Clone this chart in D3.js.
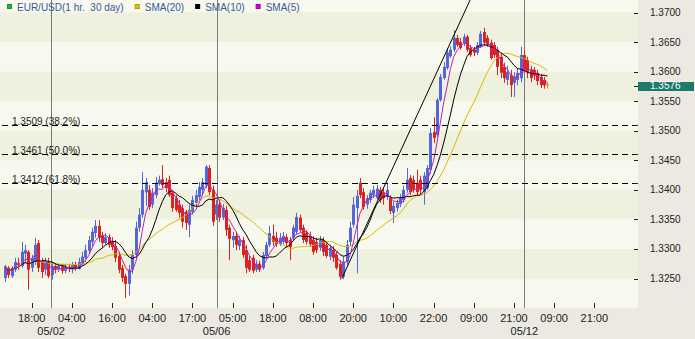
<!DOCTYPE html>
<html>
<head>
<meta charset="utf-8">
<title>EUR/USD 1 hr</title>
<script src="https://cdn.jsdelivr.net/npm/d3@7"></script>
<style>
  body { margin: 0; background: #ece9e2; }
  text { font-family: "Liberation Sans", Arial, sans-serif; }
</style>
</head>
<body>
<script>
// hourly candles: [open, high, low, close]
const candles = [
  [1.3251,1.3273,1.3244,1.3270],[1.3268,1.3271,1.3251,1.3256],[1.3254,1.3271,1.3251,1.3268],[1.3265,1.3285,1.3261,1.3278],
  [1.3276,1.3285,1.3265,1.3273],[1.3271,1.3312,1.3268,1.3295],[1.3292,1.3307,1.3278,1.3298],[1.3295,1.3298,1.3231,1.3265],
  [1.3268,1.3290,1.3261,1.3285],[1.3278,1.3319,1.3273,1.3307],[1.3310,1.3315,1.3261,1.3268],[1.3278,1.3285,1.3251,1.3261],
  [1.3265,1.3285,1.3256,1.3278],[1.3278,1.3285,1.3251,1.3254],[1.3256,1.3278,1.3248,1.3271],[1.3271,1.3276,1.3259,1.3265],
  [1.3265,1.3276,1.3261,1.3271],[1.3271,1.3275,1.3258,1.3263],[1.3263,1.3275,1.3259,1.3270],[1.3270,1.3275,1.3261,1.3266],
  [1.3265,1.3278,1.3259,1.3273],[1.3273,1.3278,1.3263,1.3266],[1.3266,1.3285,1.3265,1.3278],[1.3276,1.3295,1.3273,1.3287],
  [1.3285,1.3307,1.3278,1.3298],[1.3297,1.3322,1.3292,1.3315],[1.3312,1.3336,1.3305,1.3329],[1.3327,1.3349,1.3319,1.3339],
  [1.3339,1.3349,1.3312,1.3319],[1.3322,1.3329,1.3303,1.3310],[1.3310,1.3327,1.3307,1.3320],[1.3320,1.3325,1.3302,1.3307],
  [1.3313,1.3320,1.3298,1.3303],[1.3305,1.3315,1.3278,1.3285],[1.3288,1.3295,1.3259,1.3265],[1.3268,1.3273,1.3244,1.3251],
  [1.3254,1.3258,1.3217,1.3241],[1.3241,1.3273,1.3221,1.3265],[1.3265,1.3298,1.3258,1.3290],[1.3290,1.3346,1.3285,1.3336],
  [1.3336,1.3369,1.3329,1.3358],[1.3358,1.3430,1.3353,1.3400],[1.3396,1.3420,1.3373,1.3413],[1.3400,1.3408,1.3366,1.3371],
  [1.3375,1.3403,1.3369,1.3395],[1.3391,1.3422,1.3386,1.3412],[1.3410,1.3424,1.3407,1.3417],[1.3418,1.3442,1.3403,1.3408],
  [1.3413,1.3420,1.3396,1.3403],[1.3417,1.3424,1.3388,1.3391],[1.3395,1.3400,1.3363,1.3369],[1.3386,1.3391,1.3363,1.3366],
  [1.3375,1.3383,1.3353,1.3361],[1.3369,1.3375,1.3336,1.3346],[1.3363,1.3366,1.3332,1.3344],[1.3341,1.3375,1.3320,1.3366],
  [1.3363,1.3390,1.3358,1.3383],[1.3378,1.3400,1.3371,1.3391],[1.3388,1.3413,1.3383,1.3405],[1.3400,1.3420,1.3391,1.3413],
  [1.3408,1.3442,1.3403,1.3439],[1.3437,1.3442,1.3391,1.3396],[1.3400,1.3407,1.3339,1.3346],[1.3358,1.3383,1.3349,1.3375],
  [1.3375,1.3383,1.3346,1.3353],[1.3353,1.3376,1.3349,1.3369],[1.3366,1.3373,1.3322,1.3332],[1.3336,1.3341,1.3281,1.3317],
  [1.3315,1.3329,1.3302,1.3322],[1.3322,1.3329,1.3298,1.3307],[1.3305,1.3322,1.3298,1.3315],[1.3315,1.3320,1.3285,1.3290],
  [1.3298,1.3307,1.3259,1.3268],[1.3281,1.3288,1.3261,1.3265],[1.3285,1.3290,1.3259,1.3263],[1.3265,1.3281,1.3261,1.3275],
  [1.3275,1.3280,1.3261,1.3265],[1.3268,1.3295,1.3265,1.3290],[1.3288,1.3312,1.3285,1.3307],[1.3307,1.3339,1.3303,1.3327],
  [1.3322,1.3341,1.3305,1.3312],[1.3319,1.3329,1.3303,1.3308],[1.3308,1.3327,1.3305,1.3319],[1.3312,1.3329,1.3308,1.3322],
  [1.3320,1.3325,1.3302,1.3310],[1.3315,1.3320,1.3281,1.3303],[1.3319,1.3341,1.3315,1.3336],[1.3329,1.3361,1.3324,1.3354],
  [1.3353,1.3358,1.3329,1.3332],[1.3336,1.3341,1.3310,1.3315],[1.3327,1.3332,1.3307,1.3312],[1.3322,1.3329,1.3303,1.3308],
  [1.3315,1.3322,1.3290,1.3295],[1.3312,1.3319,1.3293,1.3298],[1.3302,1.3322,1.3297,1.3315],[1.3315,1.3320,1.3288,1.3295],
  [1.3307,1.3312,1.3285,1.3288],[1.3287,1.3307,1.3281,1.3302],[1.3298,1.3305,1.3278,1.3285],[1.3290,1.3295,1.3265,1.3268],
  [1.3275,1.3281,1.3248,1.3253],[1.3253,1.3287,1.3249,1.3278],[1.3278,1.3315,1.3273,1.3307],[1.3312,1.3346,1.3305,1.3336],
  [1.3341,1.3388,1.3336,1.3375],[1.3369,1.3400,1.3259,1.3390],[1.3412,1.3420,1.3386,1.3391],[1.3396,1.3403,1.3366,1.3371],
  [1.3375,1.3391,1.3368,1.3386],[1.3383,1.3400,1.3378,1.3395],[1.3391,1.3407,1.3386,1.3400],[1.3386,1.3408,1.3383,1.3402],
  [1.3400,1.3405,1.3378,1.3383],[1.3396,1.3403,1.3375,1.3386],[1.3388,1.3412,1.3383,1.3400],[1.3386,1.3391,1.3359,1.3364],
  [1.3361,1.3380,1.3344,1.3373],[1.3369,1.3383,1.3363,1.3378],[1.3376,1.3393,1.3371,1.3386],[1.3383,1.3407,1.3378,1.3400],
  [1.3400,1.3437,1.3395,1.3417],[1.3420,1.3425,1.3391,1.3396],[1.3417,1.3424,1.3395,1.3400],[1.3412,1.3434,1.3391,1.3396],
  [1.3417,1.3424,1.3393,1.3400],[1.3396,1.3430,1.3375,1.3424],[1.3403,1.3442,1.3400,1.3437],[1.3434,1.3505,1.3427,1.3496],
  [1.3498,1.3523,1.3479,1.3488],[1.3493,1.3555,1.3490,1.3552],[1.3552,1.3596,1.3549,1.3591],[1.3589,1.3616,1.3586,1.3608],
  [1.3606,1.3640,1.3603,1.3632],[1.3626,1.3643,1.3623,1.3637],[1.3637,1.3670,1.3633,1.3657],[1.3657,1.3662,1.3642,1.3645],
  [1.3650,1.3657,1.3637,1.3640],[1.3647,1.3664,1.3643,1.3659],[1.3659,1.3662,1.3633,1.3637],[1.3640,1.3645,1.3625,1.3628],
  [1.3637,1.3642,1.3626,1.3632],[1.3632,1.3650,1.3628,1.3645],[1.3643,1.3669,1.3640,1.3664],[1.3667,1.3674,1.3645,1.3649],
  [1.3657,1.3662,1.3642,1.3645],[1.3649,1.3654,1.3620,1.3623],[1.3645,1.3650,1.3623,1.3628],[1.3637,1.3642,1.3594,1.3608],
  [1.3625,1.3632,1.3589,1.3598],[1.3608,1.3615,1.3581,1.3589],[1.3586,1.3610,1.3577,1.3599],[1.3594,1.3603,1.3557,1.3577],
  [1.3581,1.3599,1.3557,1.3591],[1.3586,1.3606,1.3577,1.3598],[1.3589,1.3642,1.3582,1.3628],[1.3628,1.3637,1.3599,1.3603],
  [1.3620,1.3625,1.3589,1.3599],[1.3603,1.3610,1.3582,1.3589],[1.3603,1.3608,1.3586,1.3593],[1.3598,1.3603,1.3577,1.3584],
  [1.3591,1.3596,1.3572,1.3577],[1.3586,1.3591,1.3571,1.3577],[1.3579,1.3582,1.3571,1.3576]
];

const yTicks = [1.3250, 1.3300, 1.3350, 1.3400, 1.3450, 1.3500, 1.3550, 1.3600, 1.3650, 1.3700];
const xTickLabels = ["18:00", "04:00", "16:00", "04:00", "17:00", "05:00", "18:00", "08:00",
                     "20:00", "10:00", "22:00", "09:00", "21:00", "09:00", "21:00"];
const firstTickBar = 8, tickStep = 12;
const dayLabels = ["05/02", "05/06", "05/12"];
const dayBars = [13.8, 63.2, 155.1];
const fibLevels = [1.3509, 1.3461, 1.3412];
const fibLabels = ["1.3509 (38.2%)", "1.3461 (50.0%)", "1.3412 (61.8%)"];
const trendLine = [[100.6, 1.3250], [138.9, 1.3721]];
const lastPrice = 1.3576;
const smaPeriods = [20, 10, 5];
const smaColors = ["#d9b800", "#000000", "#c41cb4"];
const legendNames = ["EUR/USD(1 hr.  30 day)", "SMA(20)", "SMA(10)", "SMA(5)"];
const legendColors = ["#2fae2f", "#d9c200", "#000000", "#cc00cc"];

const W = 695, H = 339, plotW = 638, plotH = 308;
const upColor = "#5366dc", downColor = "#dd2222", lastColor = "#f29a30";

const svg = d3.select("body").append("svg")
    .attr("width", W)
    .attr("height", H);

svg.append("rect").attr("width", W).attr("height", H).attr("fill", "#ece9e2");

const x = d3.scaleLinear().domain([-1.463, 189.04]).range([0, plotW]);
const y = d3.scaleLinear().domain([1.325, 1.37]).range([278.5, 12.5]);

svg.append("defs").append("clipPath").attr("id", "plot-clip")
    .append("rect").attr("width", plotW).attr("height", plotH);

const plot = svg.append("g").attr("clip-path", "url(#plot-clip)");

// background bands between price ticks
plot.append("rect").attr("width", plotW).attr("height", plotH).attr("fill", "#f7f9ee");
plot.selectAll("rect.band")
    .data(d3.pairs(yTicks).filter((d, i) => i % 2 === 0))
    .join("rect")
    .attr("class", "band")
    .attr("x", 0)
    .attr("width", plotW)
    .attr("y", d => y(d[1]))
    .attr("height", d => y(d[0]) - y(d[1]))
    .attr("fill", "#edf1dd");

// day separators
plot.selectAll("line.day")
    .data(dayBars)
    .join("line")
    .attr("class", "day")
    .attr("x1", d => Math.round(x(d)) + 0.5)
    .attr("x2", d => Math.round(x(d)) + 0.5)
    .attr("y1", 0)
    .attr("y2", plotH)
    .attr("stroke", "#7a7a7a");

// candles
const colorOf = (d, i) => i === candles.length - 1 ? lastColor : (d[3] >= d[0] ? upColor : downColor);
const cg = plot.append("g");
cg.selectAll("line")
    .data(candles)
    .join("line")
    .attr("x1", (d, i) => Math.round(x(i)) + 0.5)
    .attr("x2", (d, i) => Math.round(x(i)) + 0.5)
    .attr("y1", d => y(d[1]))
    .attr("y2", d => y(d[2]))
    .attr("stroke", colorOf);
cg.selectAll("rect")
    .data(candles)
    .join("rect")
    .attr("x", (d, i) => Math.round(x(i)) - 1)
    .attr("width", 3)
    .attr("y", d => y(Math.max(d[0], d[3])))
    .attr("height", d => Math.max(1, Math.abs(y(d[0]) - y(d[3]))))
    .attr("fill", colorOf);

// moving averages of the closes
const closes = candles.map(d => d[3]);
smaPeriods.forEach((n, k) => {
    const vals = closes.map((c, i) => d3.mean(closes.slice(Math.max(0, i - n + 1), i + 1)));
    plot.append("path")
        .datum(vals)
        .attr("d", d3.line().x((d, i) => x(i)).y(d => y(d)))
        .attr("fill", "none")
        .attr("stroke", smaColors[k])
        .attr("stroke-width", 1);
});

// trend line
plot.append("line")
    .attr("x1", x(trendLine[0][0])).attr("y1", y(trendLine[0][1]))
    .attr("x2", x(trendLine[1][0])).attr("y2", y(trendLine[1][1]))
    .attr("stroke", "#000")
    .attr("stroke-width", 1);

// fibonacci retracement levels
plot.selectAll("line.fib")
    .data(fibLevels)
    .join("line")
    .attr("class", "fib")
    .attr("x1", 2)
    .attr("x2", plotW)
    .attr("y1", d => Math.round(y(d)) + 0.5)
    .attr("y2", d => Math.round(y(d)) + 0.5)
    .attr("stroke", "#000")
    .attr("stroke-dasharray", "6,4");
plot.selectAll("text.fib")
    .data(fibLevels)
    .join("text")
    .attr("class", "fib")
    .attr("x", 12)
    .attr("y", d => Math.round(y(d)))
    .attr("font-size", 10)
    .attr("fill", "#222")
    .text((d, i) => fibLabels[i]);

// legend
let lx = 7;
legendNames.forEach((name, i) => {
    svg.append("rect")
        .attr("x", lx + 0.5).attr("y", 4.5)
        .attr("width", 4).attr("height", 4)
        .attr("fill", legendColors[i])
        .attr("stroke", d3.color(legendColors[i]).darker(0.6));
    const t = svg.append("text")
        .attr("x", lx + 10).attr("y", 11)
        .attr("font-size", 10)
        .attr("fill", "#36589a")
        .style("white-space", "pre")
        .text(name);
    lx += 10 + t.node().getComputedTextLength() + 11;
});

// right price axis
const axisG = svg.append("g");
axisG.selectAll("line.tick")
    .data(yTicks.concat(fibLevels, [lastPrice]))
    .join("line")
    .attr("class", "tick")
    .attr("x1", plotW - 4).attr("x2", plotW)
    .attr("y1", d => Math.round(y(d)) + 0.5)
    .attr("y2", d => Math.round(y(d)) + 0.5)
    .attr("stroke", "#222");
axisG.selectAll("text")
    .data(yTicks)
    .join("text")
    .attr("x", 650)
    .attr("y", d => y(d) + 3.5)
    .attr("font-size", 10)
    .attr("fill", "#222")
    .text(d => d3.format(".4f")(d));

// last price marker
axisG.append("rect")
    .attr("x", plotW).attr("y", Math.round(y(lastPrice)) - 4)
    .attr("width", 56).attr("height", 9)
    .attr("fill", "#1b7a69");
axisG.append("text")
    .attr("x", 650).attr("y", y(lastPrice) + 3.5)
    .attr("font-size", 10)
    .attr("fill", "#fff")
    .text(d3.format(".4f")(lastPrice));

// time axis
const tickBars = xTickLabels.map((d, i) => firstTickBar + i * tickStep);
svg.selectAll("line.xtick")
    .data(tickBars)
    .join("line")
    .attr("class", "xtick")
    .attr("x1", d => Math.round(x(d)) + 0.5)
    .attr("x2", d => Math.round(x(d)) + 0.5)
    .attr("y1", plotH - 5).attr("y2", plotH)
    .attr("stroke", "#222");
svg.selectAll("text.xlab")
    .data(tickBars)
    .join("text")
    .attr("class", "xlab")
    .attr("x", d => x(d))
    .attr("y", 322)
    .attr("text-anchor", "middle")
    .attr("font-size", 11)
    .attr("fill", "#222")
    .text((d, i) => xTickLabels[i]);
svg.selectAll("text.day")
    .data(dayBars)
    .join("text")
    .attr("class", "day")
    .attr("x", d => x(d))
    .attr("y", 335)
    .attr("text-anchor", "middle")
    .attr("font-size", 11)
    .attr("fill", "#222")
    .text((d, i) => dayLabels[i]);
</script>
</body>
</html>
